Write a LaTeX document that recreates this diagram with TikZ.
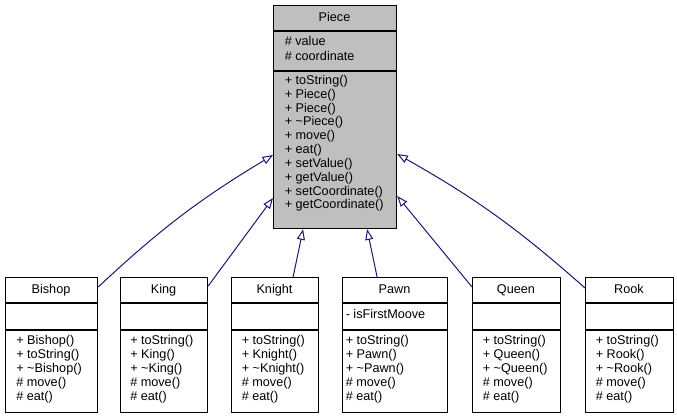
\documentclass[tikz,border=0pt]{standalone}
\usepackage{fontspec}
\setmainfont{Liberation Sans}
\usetikzlibrary{calc,arrows.meta}
\definecolor{LinkBlue}{RGB}{25,25,112}
\definecolor{BaseGray}{RGB}{191,191,191}

\begin{document}
\begin{tikzpicture}[x=0.75pt,y=-0.75pt]
	\tikzstyle{every node}=[font=\fontsize{9.5}{11}\selectfont, inner sep=0pt]
	\tikzstyle{cls}=[draw, line width=0.9pt, anchor=north west, minimum height=101.25pt]
	\tikzstyle{sep}=[line width=0.9pt]
	\tikzstyle{ttl}=[anchor=base]
	\tikzstyle{mbr}=[anchor=base west]
	\tikzstyle{inherit}=[draw=LinkBlue, line width=0.75pt, -{Triangle[open, length=8pt, width=6pt]}]
	\useasboundingbox (0,0) rectangle (677,419);
	% base class
	\node [cls, fill=BaseGray, minimum width=92.25pt, minimum height=167.25pt] (piece) at (273,5) {};
	\draw [sep] ($(piece.north west)+(0,26)$) -- ($(piece.north east)+(0,26)$);
	\draw [sep] ($(piece.north west)+(0,66)$) -- ($(piece.north east)+(0,66)$);
	\node [ttl] (piecettl) at (334.5,21.5) {Piece};
	\node [mbr] (pa1) at (284.5,45.7) {\# value};
	\node [mbr] (pa2) at (284.5,60.5) {\# coordinate};
	\foreach \m [count=\i] in {+ toString(), + Piece(), + Piece(), + \textasciitilde Piece(), + move(), + eat(), + setValue(), + getValue(), + setCoordinate(), + getCoordinate()}
		\node [mbr] (pm\i) at (284.5,{84.5+13.83*(\i-1)}) {\m};
	% derived classes
	\node [cls, minimum width=69pt] (bishop) at (5,277) {};
	\node [cls, minimum width=65.25pt] (king) at (120,277) {};
	\node [cls, minimum width=65.25pt] (knight) at (231,277) {};
	\node [cls, minimum width=78.75pt] (pawn) at (342,277) {};
	\node [cls, minimum width=66pt] (queen) at (472,277) {};
	\node [cls, minimum width=66pt] (rook) at (585,277) {};
	\foreach \c in {bishop,king,knight,pawn,queen,rook} {
		\draw [sep] ($(\c.north west)+(0,26)$) -- ($(\c.north east)+(0,26)$);
		\draw [sep] ($(\c.north west)+(0,53)$) -- ($(\c.north east)+(0,53)$);
	}
	\node [ttl] (bishopttl) at (51,293) {Bishop};
	\node [ttl] (kingttl) at (163.5,293) {King};
	\node [ttl] (knightttl) at (274.5,293) {Knight};
	\node [ttl] (pawnttl) at (394.5,293) {Pawn};
	\node [ttl] (queenttl) at (516,293) {Queen};
	\node [ttl] (rookttl) at (629,293) {Rook};
	\node [mbr] (pwa1) at (345.5,318) {- isFirstMoove};
	\foreach \m [count=\i] in {+ Bishop(), + toString(), + \textasciitilde Bishop(), \# move(), \# eat()}
		\node [mbr] (bm\i) at (16,{344+14*(\i-1)}) {\m};
	\foreach \m [count=\i] in {+ toString(), + King(), + \textasciitilde King(), \# move(), \# eat()}
		\node [mbr] (km\i) at (130,{344+14*(\i-1)}) {\m};
	\foreach \m [count=\i] in {+ toString(), + Knight(), + \textasciitilde Knight(), \# move(), \# eat()}
		\node [mbr] (nm\i) at (241.5,{344+14*(\i-1)}) {\m};
	\foreach \m [count=\i] in {+ toString(), + Pawn(), + \textasciitilde Pawn(), \# move(), \# eat()}
		\node [mbr] (pwm\i) at (345.5,{344+14*(\i-1)}) {\m};
	\foreach \m [count=\i] in {+ toString(), + Queen(), + \textasciitilde Queen(), \# move(), \# eat()}
		\node [mbr] (qm\i) at (482.5,{344+14*(\i-1)}) {\m};
	\foreach \m [count=\i] in {+ toString(), + Rook(), + \textasciitilde Rook(), \# move(), \# eat()}
		\node [mbr] (rm\i) at (595.5,{344+14*(\i-1)}) {\m};
	% inheritance
	\draw [inherit] ($(bishop.north east)+(0,10)$) to [bend left=6] ($(piece.north west)+(0,150)$);
	\draw [inherit] ($(king.north east)+(0,9)$) -- ($(piece.north west)+(0,193)$);
	\draw [inherit] ($(knight.north)+(18,0)$) -- ($(piece.south)+(-32,0)$);
	\draw [inherit] ($(pawn.north)+(-18,0)$) -- ($(piece.south)+(32,0)$);
	\draw [inherit] ($(queen.north west)+(0,10)$) -- ($(piece.north east)+(0,191)$);
	\draw [inherit] ($(rook.north west)+(0,11)$) to [bend right=6] ($(piece.north east)+(0,149)$);
\end{tikzpicture}
\end{document}
